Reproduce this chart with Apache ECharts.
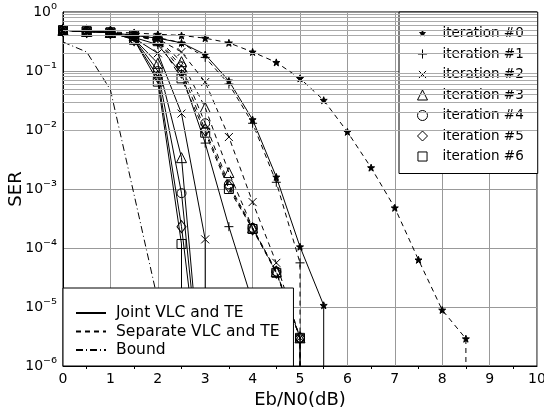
<!DOCTYPE html>
<html>
<head>
<meta charset="utf-8">
<script src="https://cdn.jsdelivr.net/npm/echarts@6/dist/echarts.min.js"></script>
<style>
  html, body { margin: 0; padding: 0; background: #fff; }
  #chart { width: 544px; height: 413px; }
</style>
</head>
<body>
<div id="chart"></div>
<script>
// Eb/N0 in dB, every curve is sampled on this grid (by index)
const ebn0 = [0, 0.5, 1, 1.5, 2, 2.5, 3, 3.5, 4, 4.5, 5, 5.5, 6, 6.5, 7, 7.5, 8, 8.5]

// SER values, 0 means no errors measured (curve drops off the bottom)
const jointIter0 = [0.49, 0.47, 0.45, 0.40, 0.36, 0.30, 0.19, 0.068, 0.015, 1.6e-3, 1.05e-4, 1.07e-5, 0]
const jointIter1 = [0.49, 0.47, 0.45, 0.37, 0.28, 0.09, 6e-3, 2.3e-4, 1.2e-5, 0]
const jointIter2 = [0.49, 0.47, 0.45, 0.36, 0.20, 0.019, 1.4e-4, 0]
const jointIter3 = [0.49, 0.47, 0.45, 0.35, 0.135, 3.4e-3, 1e-7]
const jointIter4 = [0.49, 0.47, 0.45, 0.35, 0.10, 8.5e-4, 1e-7]
const jointIter5 = [0.49, 0.47, 0.45, 0.34, 0.08, 2.3e-4, 1e-7]
const jointIter6 = [0.49, 0.47, 0.45, 0.34, 0.066, 1.17e-4, 0]

const sepIter0 = [0.49, 0.47, 0.46, 0.44, 0.42, 0.40, 0.36, 0.30, 0.21, 0.14, 0.075, 0.032, 9.3e-3, 2.3e-3, 4.8e-4, 6.3e-5, 8.9e-6, 2.9e-6, 0]
const sepIter1 = [0.49, 0.47, 0.45, 0.41, 0.37, 0.30, 0.17, 0.06, 0.013, 1.3e-3, 5.6e-5, 0]
const sepIter2 = [0.49, 0.47, 0.45, 0.40, 0.35, 0.21, 0.065, 7.6e-3, 6e-4, 5.6e-5, 3e-6, 0]
const sepIter3 = [0.49, 0.47, 0.45, 0.40, 0.34, 0.144, 0.024, 1.9e-3, 2.2e-4, 4e-5, 3e-6, 0]
const sepIter4 = [0.49, 0.47, 0.45, 0.40, 0.33, 0.12, 0.013, 1.2e-3, 2.2e-4, 4e-5, 3e-6, 0]
const sepIter5 = [0.49, 0.47, 0.45, 0.40, 0.33, 0.10, 0.010, 1.1e-3, 2.1e-4, 3.9e-5, 3e-6, 0]
const sepIter6 = [0.49, 0.47, 0.45, 0.40, 0.32, 0.075, 9e-3, 1.0e-3, 2.1e-4, 3.8e-5, 3e-6, 0]

const bound = [0.31, 0.21, 0.048, 8e-4, 1.3e-5, 0]

const iterNames = ['iteration #0', 'iteration #1', 'iteration #2', 'iteration #3', 'iteration #4', 'iteration #5', 'iteration #6']
const styleNames = ['Joint VLC and TE', 'Separate VLC and TE', 'Bound']
const yTicks = [1e-6, 1e-5, 1e-4, 1e-3, 1e-2, 1e-1, 1]

const FONT = 'DejaVu Sans'
const FLOOR = 1e-12
const SUP = { '-': '\u207B', '0': '\u2070', '1': '\u00B9', '2': '\u00B2', '3': '\u00B3', '4': '\u2074', '5': '\u2075', '6': '\u2076' }

const starPath = 'M10,2L11.88,7.41L17.61,7.53L13.04,10.99L14.7,16.47L10,13.2L5.3,16.47L6.96,10.99L2.39,7.53L8.12,7.41Z'
const markers = [
  { symbol: 'path://' + starPath, size: 7, fill: '#000', icon: 'path://M-3,-3M23,23' + starPath },
  { symbol: 'path://M5,0L5,10M0,5L10,5', size: 9, fill: 'transparent', icon: 'path://M-0.5,-0.5M10.5,10.5M5,0L5,10M0,5L10,5' },
  { symbol: 'path://M0,0L10,10M10,0L0,10', size: 8, fill: 'transparent', icon: 'path://M-2,-2M12,12M0,0L10,10M10,0L0,10' },
  { symbol: 'triangle', size: 10, fill: 'transparent', icon: 'triangle' },
  { symbol: 'circle', size: 9, fill: 'transparent', icon: 'circle' },
  { symbol: 'diamond', size: [9, 12], fill: 'transparent', icon: 'diamond' },
  { symbol: 'rect', size: 9, fill: 'transparent', icon: 'path://M-0.5,-0.5M10.5,10.5M0,0L10,0L10,10L0,10Z' }
]

// minor log grid lines (2..9 x 10^k)
const minorGrid = []
for (let e = -6; e < 0; e++) {
  for (let m = 2; m <= 9; m++) minorGrid.push(m * Math.pow(10, e))
}

function toPoints (vals) {
  const pts = []
  for (let i = 0; i < vals.length; i++) {
    if (vals[i] === 0) {
      pts.push({ value: [ebn0[i - 1], FLOOR], symbol: 'none' })
      break
    }
    pts.push([ebn0[i], vals[i]])
  }
  return pts
}

function curve (vals, dash, mk) {
  return {
    type: 'line',
    data: toPoints(vals),
    symbol: mk.symbol,
    symbolSize: mk.size,
    showAllSymbol: true,
    clip: true,
    silent: true,
    itemStyle: { color: mk.fill, borderColor: '#000', borderWidth: 1 },
    lineStyle: { color: '#000', width: 1, type: dash }
  }
}

const joint = [jointIter0, jointIter1, jointIter2, jointIter3, jointIter4, jointIter5, jointIter6]
const separate = [sepIter0, sepIter1, sepIter2, sepIter3, sepIter4, sepIter5, sepIter6]

const series = [{
  type: 'line',
  data: [],
  silent: true,
  markLine: {
    silent: true,
    symbol: 'none',
    label: { show: false },
    lineStyle: { color: '#aaa', type: 'solid', width: 1 },
    data: minorGrid.map(v => ({ yAxis: v }))
  }
}]
separate.forEach((v, i) => series.push(curve(v, [5, 4], markers[i])))
joint.forEach((v, i) => series.push(curve(v, 'solid', markers[i])))
series.push({
  name: 'Bound',
  type: 'line',
  data: toPoints(bound),
  symbol: 'none',
  clip: true,
  silent: true,
  itemStyle: { color: '#000' },
  lineStyle: { color: '#000', width: 1, type: [7, 3, 1, 3] }
})
// legend-only entries
iterNames.forEach((n, i) => series.push({
  name: n, type: 'line', data: [], symbol: markers[i].symbol,
  itemStyle: { color: '#000' }, lineStyle: { color: '#000' }
}))
series.push({ name: styleNames[0], type: 'line', data: [], symbol: 'none', itemStyle: { color: '#000' }, lineStyle: { color: '#000', width: 1, type: 'solid' } })
series.push({ name: styleNames[1], type: 'line', data: [], symbol: 'none', itemStyle: { color: '#000' }, lineStyle: { color: '#000', width: 1, type: [5, 4] } })

const chart = echarts.init(document.getElementById('chart'))
chart.setOption({
  animation: false,
  textStyle: { fontFamily: FONT, color: '#000' },
  grid: {
    left: 63, right: 7, top: 12, bottom: 47,
    containLabel: false,
    outerBoundsMode: 'none',
    show: true, borderColor: '#000', borderWidth: 1
  },
  legend: [{
    orient: 'vertical',
    left: 399,
    top: 12,
    padding: [11.5, 14, 7, 18],
    itemWidth: 10,
    itemHeight: 10,
    itemGap: 0.5,
    selectedMode: false,
    backgroundColor: '#fff',
    borderColor: '#000',
    borderWidth: 1,
    borderRadius: 0,
    textStyle: { fontFamily: FONT, fontSize: 13.5, lineHeight: 20, color: '#000', padding: [0, 0, 0, 10] },
    data: iterNames.map((n, i) => ({
      name: n,
      icon: markers[i].icon,
      itemStyle: { color: markers[i].fill, borderColor: '#000', borderWidth: 1 }
    }))
  }, {
    orient: 'vertical',
    left: 63,
    top: 288,
    padding: [16, 14, 7, 12],
    itemWidth: 30,
    itemHeight: 10,
    itemGap: 0.5,
    selectedMode: false,
    backgroundColor: '#fff',
    borderColor: '#000',
    borderWidth: 1,
    borderRadius: 0,
    textStyle: { fontFamily: FONT, fontSize: 15.5, lineHeight: 18, color: '#000', padding: [0, 0, 0, 5] },
    data: styleNames.map(n => ({ name: n, itemStyle: { color: 'transparent', borderWidth: 0 } }))
  }],
  xAxis: {
    type: 'value',
    min: 0,
    max: 10,
    interval: 1,
    name: 'Eb/N0(dB)',
    nameLocation: 'middle',
    nameGap: 25,
    nameMoveOverlap: false,
    nameTextStyle: { fontFamily: FONT, fontSize: 18, color: '#000' },
    axisLine: { lineStyle: { color: '#000', width: 1 } },
    axisTick: { show: false },
    minorTick: { show: true, splitNumber: 2, length: 3, lineStyle: { color: '#000' } },
    axisLabel: { margin: 6, fontFamily: FONT, fontSize: 14, color: '#000' },
    splitLine: { show: true, lineStyle: { color: '#999', width: 1 } }
  },
  yAxis: {
    type: 'log',
    logBase: 10,
    min: yTicks[0],
    max: yTicks[yTicks.length - 1],
    splitNumber: 6,
    name: 'SER',
    nameLocation: 'middle',
    nameGap: 38,
    nameMoveOverlap: false,
    nameTextStyle: { fontFamily: FONT, fontSize: 18, color: '#000' },
    axisLine: { lineStyle: { color: '#000', width: 1 } },
    axisTick: { show: false },
    axisLabel: {
      margin: 6,
      formatter: v => {
        const e = String(Math.round(Math.log10(v)))
        return '{b|10}{s|' + e.split('').map(c => SUP[c]).join('') + '}'
      },
      rich: {
        b: { fontFamily: FONT, fontSize: 14, color: '#000' },
        s: { fontFamily: FONT, fontSize: 15, color: '#000', padding: [0, 0, 4, 0] }
      }
    },
    splitLine: { show: true, lineStyle: { color: '#999', width: 1 } }
  },
  series: series
})
</script>
</body>
</html>
